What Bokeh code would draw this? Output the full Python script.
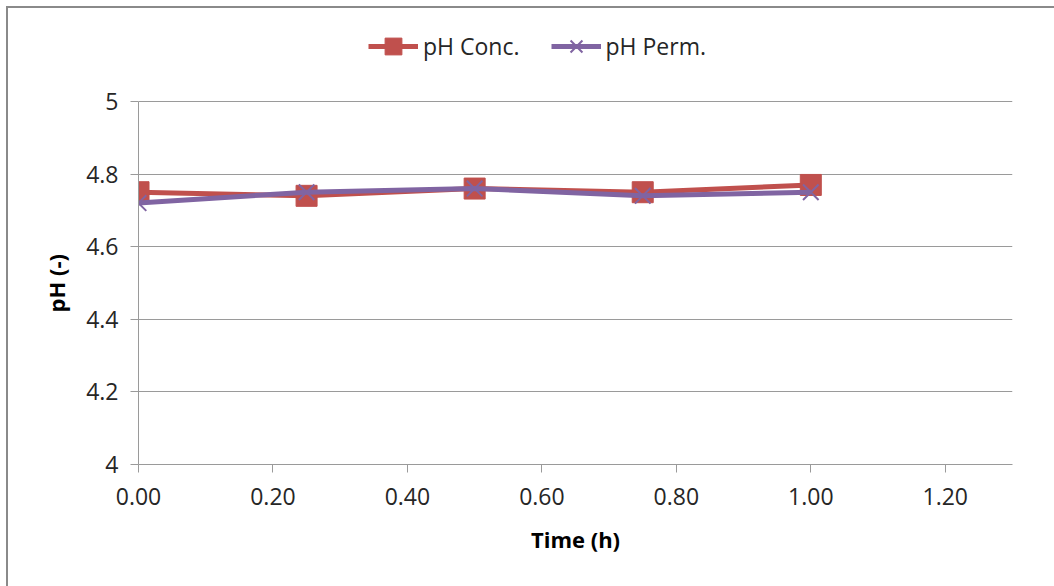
from bokeh.plotting import figure
from bokeh.models import (Range1d, FixedTicker, PrintfTickFormatter, Legend,
                          LegendItem, ColumnDataSource, Title)
from bokeh.embed import file_html
from bokeh.resources import INLINE

# Sampling times (h) and measured pH values
time_h = [0.0, 0.25, 0.5, 0.75, 1.0]
ph_conc = [4.75, 4.74, 4.76, 4.75, 4.77]
ph_perm = [4.72, 4.75, 4.76, 4.74, 4.75]

x_ticks = [0.0, 0.2, 0.4, 0.6, 0.8, 1.0, 1.2]
y_ticks = [4.0, 4.2, 4.4, 4.6, 4.8, 5.0]

CONC = "#C0504D"
PERM = "#8064A2"
GRID = "#9a9a9a"
FONT = "Open Sans"

# The frame runs up to the top edge so the legend has room above the
# pH 5 gridline; the y axis itself is bounded to 4..5.
p = figure(width=1048, height=580, output_backend="svg", toolbar_location=None,
           x_range=Range1d(0, 1.3), y_range=Range1d(4, 5.256),
           min_border_left=130, min_border_right=44,
           min_border_top=0, min_border_bottom=124,
           margin=(6, 0, 0, 6),
           styles={"border-left": "2px solid #8a8a8a",
                   "border-top": "2px solid #8a8a8a",
                   "box-sizing": "border-box"})
p.outline_line_color = None
p.background_fill_color = "white"
p.border_fill_color = "white"

# grid
p.xgrid.grid_line_color = None
p.ygrid.grid_line_color = GRID
p.ygrid.grid_line_width = 1
p.ygrid.ticker = FixedTicker(ticks=y_ticks)

# axes
p.xaxis.ticker = FixedTicker(ticks=x_ticks)
p.xaxis.formatter = PrintfTickFormatter(format="%.2f")
p.yaxis.ticker = FixedTicker(ticks=y_ticks)
p.yaxis.formatter = PrintfTickFormatter(format="%g")
p.yaxis.bounds = (4, 5)
for ax in (p.xaxis[0], p.yaxis[0]):
    ax.axis_line_color = GRID
    ax.axis_line_width = 1
    ax.major_tick_line_color = GRID
    ax.major_tick_in = 0
    ax.major_tick_out = 8
    ax.minor_tick_line_color = None
    ax.major_label_text_font = FONT
    ax.major_label_text_font_size = "23px"
    ax.major_label_text_color = "#262626"
    ax.axis_label_text_font = FONT
    ax.axis_label_text_font_size = "22px"
    ax.axis_label_text_font_style = "bold"
    ax.axis_label_text_color = "#000000"
p.xaxis.major_label_standoff = 15
p.yaxis.major_label_standoff = 12
p.xaxis.axis_label = "Time (h)"
p.xaxis.axis_label_standoff = 16

# y-axis title, placed along the 4..5 span of the axis
ytitle = Title(text="pH (-)", align="left", vertical_align="bottom",
               offset=152, standoff=26,
               text_font=FONT, text_font_size="22px", text_font_style="bold",
               text_color="#000000")
p.add_layout(ytitle, "left")

src = ColumnDataSource(dict(t=time_h, conc=ph_conc, perm=ph_perm))

l1 = p.line("t", "conc", source=src, line_color=CONC, line_width=5)
m1 = p.scatter("t", "conc", source=src, marker="square", size=21,
               fill_color=CONC, line_color=CONC)
l2 = p.line("t", "perm", source=src, line_color=PERM, line_width=5)
m2 = p.scatter("t", "perm", source=src, marker="x", size=22,
               line_color=PERM, line_width=2)

legend = Legend(items=[LegendItem(label="pH Conc.", renderers=[l1, m1]),
                       LegendItem(label="pH Perm.", renderers=[l2, m2])],
                orientation="horizontal", location=(230, 397),
                label_text_font=FONT, label_text_font_size="23px",
                label_text_color="#262626", glyph_width=50, glyph_height=42,
                label_standoff=5, spacing=31, padding=0, margin=0,
                border_line_color=None, background_fill_alpha=0)
p.add_layout(legend, "center")

open("out.html", "w").write(file_html(p, INLINE))
